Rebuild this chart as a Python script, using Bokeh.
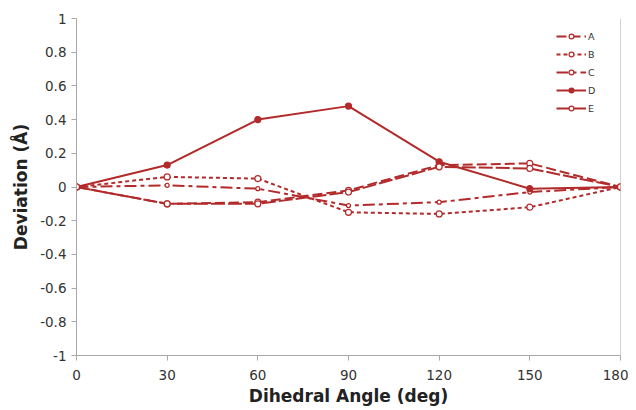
from bokeh.plotting import figure
from bokeh.models import FixedTicker, Legend, LegendItem, Span
from bokeh.embed import file_html
from bokeh.resources import INLINE

angles = [0, 30, 60, 90, 120, 150, 180]
series_a = [0, -0.10, -0.09, -0.02, 0.13, 0.14, 0]
series_b = [0, 0.06, 0.05, -0.15, -0.16, -0.12, 0]
series_c = [0, 0.01, -0.01, -0.11, -0.09, -0.03, 0]
series_d = [0, 0.13, 0.40, 0.48, 0.15, -0.01, 0]
series_e = [0, -0.10, -0.10, -0.03, 0.12, 0.11, 0]
names = ["A", "B", "C", "D", "E"]
y_ticks = [-1, -0.8, -0.6, -0.4, -0.2, 0, 0.2, 0.4, 0.6, 0.8, 1]
x_ticks = [0, 30, 60, 90, 120, 150, 180]

RED = "#b22a2a"
FONT = "DejaVu Sans"

p = figure(width=628, height=408, output_backend="svg", toolbar_location=None,
           x_range=(0, 180), y_range=(-1, 1),
           min_border_left=76, min_border_right=8, min_border_top=18, min_border_bottom=50)
p.outline_line_color = None
p.grid.grid_line_color = None
p.background_fill_color = "white"

p.yaxis.ticker = FixedTicker(ticks=y_ticks)
p.yaxis.major_label_overrides = {t: ("0" if t == 0 else f"{t:g}") for t in y_ticks}
p.xaxis.ticker = FixedTicker(ticks=x_ticks)
for ax in (p.xaxis, p.yaxis):
    ax.axis_line_color = "#a8a8a8"
    ax.major_tick_line_color = "#a8a8a8"
    ax.major_tick_out = 5
    ax.major_tick_in = 0
    ax.minor_tick_line_color = None
    ax.major_label_text_font = FONT
    ax.major_label_text_font_size = "13.5px"
    ax.major_label_text_color = "#333333"
    ax.axis_label_text_font = FONT
    ax.axis_label_text_font_size = "17px"
    ax.axis_label_text_font_style = "bold"
    ax.axis_label_text_color = "#222222"
p.xaxis.axis_label = "Dihedral Angle (deg)"
p.yaxis.axis_label = "Deviation (Å)"
p.xaxis.major_label_standoff = 9
p.xaxis.axis_label_standoff = 3
p.yaxis.axis_label_standoff = 6

p.add_layout(Span(location=180, dimension="height", line_color="#a8a8a8", line_width=1))

styles = [
    (series_a, "10 4", 6, "white"),
    (series_b, "4 3", 6, "white"),
    (series_c, "12 4 4 4", 4, "white"),
    (series_d, "solid", 6, RED),
    (series_e, "14 3", 6, "white"),
]
items = []
for name, (vals, dash, msize, mfill) in zip(names, styles):
    r1 = p.line(angles, vals, line_color=RED, line_width=2, line_dash=dash)
    r2 = p.scatter(angles, vals, marker="circle", size=msize, line_color=RED,
                   fill_color=mfill, line_width=1.2)
    items.append(LegendItem(label=name, renderers=[r1, r2]))

legend = Legend(items=items, location="top_right")
legend.border_line_color = None
legend.background_fill_alpha = 0
legend.label_text_font = FONT
legend.label_text_font_size = "9.5px"
legend.label_text_color = "#333333"
legend.glyph_width = 30
legend.glyph_height = 12
legend.spacing = 6
legend.padding = 4
legend.margin = 12
legend.label_standoff = 2
p.add_layout(legend)

open("out.html", "w").write(file_html(p, INLINE))
